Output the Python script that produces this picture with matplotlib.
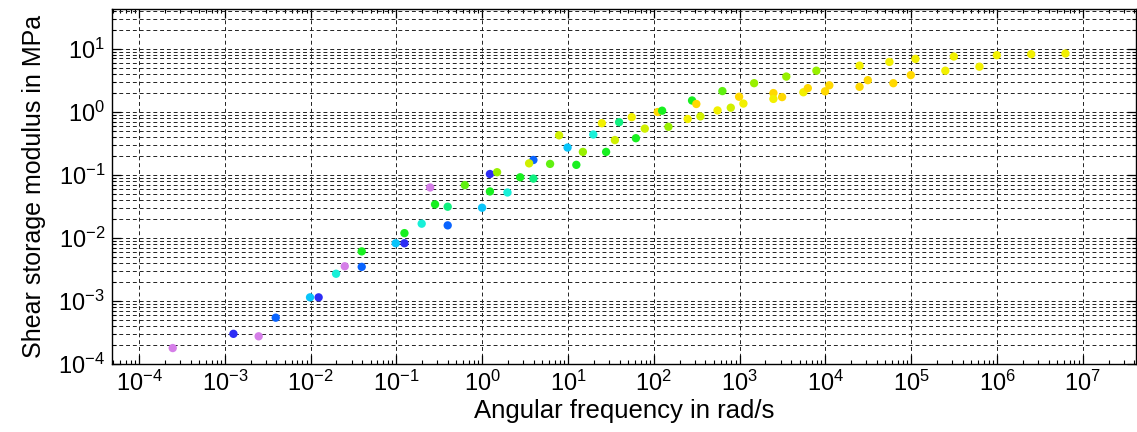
import matplotlib
matplotlib.use("Agg")
import matplotlib.pyplot as plt
from matplotlib.ticker import LogLocator, NullFormatter, FixedLocator, LogFormatterSciNotation
import numpy as np

plt.rcParams['font.family'] = ['Liberation Sans', 'DejaVu Sans']
plt.rcParams['mathtext.fontset'] = 'custom'
plt.rcParams['mathtext.rm'] = 'Liberation Sans'
plt.rcParams['mathtext.it'] = 'Liberation Sans:italic'
plt.rcParams['mathtext.bf'] = 'Liberation Sans:bold'

# Data (angular frequency in rad/s, storage modulus in MPa, temperature group)
omega = [2.47e-4, 1.26e-3, 2.48e-3, 3.92e-3, 9.84e-3, 1.24e-2, 1.98e-2, 2.50e-2,
         3.94e-2, 3.94e-2, 9.82e-2, 0.124, 0.124, 0.197, 0.396, 0.282, 0.396,
         0.247, 0.627, 0.996, 1.23, 1.49, 1.23, 1.97, 2.77, 3.95, 3.95, 3.52,
         6.18, 7.87, 9.88, 12.5, 14.9, 19.7, 24.8, 27.8, 35.2, 39.4, 55.3, 61.8,
         78.5, 111, 125, 148, 248, 279, 313, 349, 553, 630, 789, 986, 1107,
         1475, 2476, 2476, 3126, 3500, 5535, 6236, 7850, 9910, 11100, 25000,
         25000, 31200, 55700, 61900, 98900, 112000, 250000, 314000, 624000,
         995000, 2.50e6, 6.27e6]
gprime = [1.79e-4, 3.01e-4, 2.75e-4, 5.43e-4, 1.14e-3, 1.14e-3, 2.70e-3, 3.55e-3,
          6.11e-3, 3.47e-3, 8.22e-3, 8.22e-3, 1.19e-2, 1.68e-2, 1.58e-2, 3.40e-2,
          3.12e-2, 6.31e-2, 6.87e-2, 3.01e-2, 0.103, 0.110, 5.45e-2, 5.25e-2,
          9.14e-2, 8.71e-2, 0.172, 0.152, 0.149, 0.423, 0.271, 0.144, 0.231,
          0.436, 0.659, 0.231, 0.356, 0.684, 0.822, 0.381, 0.541, 0.991, 1.04,
          0.578, 0.769, 1.51, 1.33, 0.845, 1.05, 2.13, 1.16, 1.73, 1.35, 2.84,
          1.98, 1.60, 1.71, 3.62, 2.04, 2.37, 4.48, 2.11, 2.63, 5.39, 2.49, 3.17,
          6.18, 2.84, 3.82, 6.90, 4.48, 7.52, 5.19, 7.89, 8.19, 8.40]
group = [0, 1, 0, 2, 3, 1, 4, 0, 6, 2, 3, 1, 6, 4, 2, 6, 5, 0, 7, 3, 1, 8, 6, 4,
         6, 5, 2, 9, 7, 9, 3, 6, 8, 4, 10, 6, 9, 5, 10, 6, 9, 11, 6, 8, 10, 6,
         11, 9, 10, 7, 9, 11, 10, 8, 11, 10, 11, 8, 10, 11, 8, 11, 11, 10, 11,
         11, 10, 11, 11, 10, 10, 10, 10, 10, 10, 10]
palette = ['#d57ee8', '#2d2df5', '#0a64ff', '#08c4fa', '#18f0d8', '#10f080',
           '#18f020', '#60f010', '#98f000', '#d0f000', '#f2f000', '#ffd800']

x_decades = [1e-4, 1e-3, 1e-2, 1e-1, 1e0, 1e1, 1e2, 1e3, 1e4, 1e5, 1e6, 1e7]
y_decades = [1e-4, 1e-3, 1e-2, 1e-1, 1e0, 1e1]

fig = plt.figure(figsize=(11.37, 4.32), dpi=100)
ax = fig.add_axes([112/1137, 68/432, 1024/1137, 355/432])

colors = [palette[g] for g in group]
ax.scatter(omega, gprime, s=36, c=colors, linewidths=0, zorder=3)

ax.set_xscale('log')
ax.set_yscale('log')
ax.set_xlim(10**-4.315, 10**7.62)
ax.set_ylim(1e-4, 10**1.63)

ax.xaxis.set_major_locator(FixedLocator(x_decades))
ax.yaxis.set_major_locator(FixedLocator(y_decades))
ax.xaxis.set_major_formatter(LogFormatterSciNotation())
ax.yaxis.set_major_formatter(LogFormatterSciNotation())
ax.xaxis.set_minor_locator(LogLocator(base=10, subs=np.arange(2, 10), numticks=30))
ax.yaxis.set_minor_locator(LogLocator(base=10, subs=np.arange(2, 10), numticks=30))
ax.xaxis.set_minor_formatter(NullFormatter())
ax.yaxis.set_minor_formatter(NullFormatter())

ax.tick_params(which='both', direction='in', top=True, right=True,
               labelsize=17, colors='black')
ax.tick_params(which='major', length=6.5, width=0.9, pad=5)
ax.tick_params(which='minor', length=3.2, width=0.8)

ax.grid(True, which='major', axis='x', color='#222222', linestyle=(0, (4, 3)), linewidth=0.7)
ax.grid(True, which='both', axis='y', color='#222222', linestyle=(0, (4, 3)), linewidth=0.7)
ax.set_axisbelow(True)

for sp in ax.spines.values():
    sp.set_linewidth(1.0)

ax.set_xlabel('Angular frequency in rad/s', fontsize=18.5, labelpad=2)
ax.set_ylabel('Shear storage modulus in MPa', fontsize=18, labelpad=9)

fig.savefig('out.png', dpi=100)
